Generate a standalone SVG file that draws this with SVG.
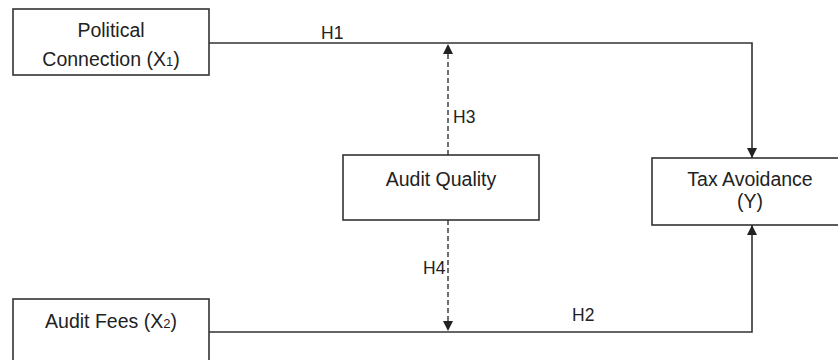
<svg xmlns="http://www.w3.org/2000/svg" width="838" height="360" viewBox="0 0 838 360">
<defs>
<style>
.box{fill:#fff;stroke:#333;stroke-width:1.6}
.t{font-family:"Liberation Sans",Arial,sans-serif;font-size:19.5px;fill:#222;text-anchor:middle}
.h{font-family:"Liberation Sans",Arial,sans-serif;font-size:17.5px;fill:#222}
.sub{font-size:13px}
.ln{fill:none;stroke:#333;stroke-width:1.6}
.dash{fill:none;stroke:#333;stroke-width:1.4;stroke-dasharray:5 3}
</style>
<marker id="ah" viewBox="0 0 10 10" refX="10" refY="5" markerWidth="10" markerHeight="10" markerUnits="userSpaceOnUse" orient="auto">
<path d="M0,0 L10,5 L0,10 Z" fill="#222"/>
</marker>
</defs>
<rect width="838" height="360" fill="#fff"/>
<g id="connectors">
<path class="ln" d="M209,43 H752 V158" marker-end="url(#ah)"/>
<path class="ln" d="M209,332 H752 V225" marker-end="url(#ah)"/>
<path class="dash" d="M448,155 V44" marker-end="url(#ah)"/>
<path class="dash" d="M448,220 V331" marker-end="url(#ah)"/>
<text class="h" x="321" y="39">H1</text>
<text class="h" x="572" y="321">H2</text>
<text class="h" x="453" y="123">H3</text>
<text class="h" x="423" y="274">H4</text>
</g>
<g id="political-connection">
<rect class="box" x="13" y="9" width="196" height="66"/>
<text class="t" x="111" y="37">Political</text>
<text class="t" x="111" y="66">Connection (X<tspan class="sub">1</tspan>)</text>
</g>
<g id="audit-quality">
<rect class="box" x="343" y="155" width="196" height="65"/>
<text class="t" x="441" y="186">Audit Quality</text>
</g>
<g id="tax-avoidance">
<rect class="box" x="652" y="158" width="196" height="67"/>
<text class="t" x="750" y="186">Tax Avoidance</text>
<text class="t" x="750" y="208">(Y)</text>
</g>
<g id="audit-fees">
<rect class="box" x="13" y="299" width="196" height="70"/>
<text class="t" x="111" y="328">Audit Fees (X<tspan class="sub">2</tspan>)</text>
</g>
</svg>
